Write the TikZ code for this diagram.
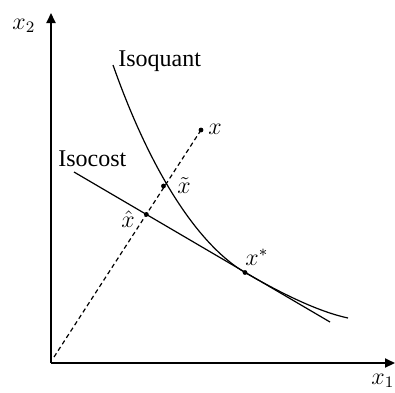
\documentclass[tikz,border=0pt]{standalone}
\usepackage{fontspec}
\setmainfont{Liberation Serif}
\usetikzlibrary{arrows.meta}

\begin{document}
\begin{tikzpicture}[x=0.5pt,y=-0.5pt,font=\fontsize{12}{14}\selectfont,
  axis/.style={line width=1pt,-{Triangle[length=5pt,width=4.5pt]}},
  curve/.style={line width=0.6pt},
  ray/.style={line width=0.6pt,dash pattern=on 2.2pt off 1.6pt},
  dot/.style={circle,fill,inner sep=0pt,minimum size=2.4pt},
  lbl/.style={inner sep=0pt,anchor=base west}]
\useasboundingbox (0,0) rectangle (395,392);
% axes
\coordinate (O) at (51,363);
\coordinate (ytop) at (51,13);
\coordinate (xend) at (395,363);
\draw[axis] (O) -- (ytop);
\draw[axis] (O) -- (xend);
\node[lbl] (x2lab) at (12,29) {$x_2$};
\node[lbl] (x1lab) at (371,384) {$x_1$};
% isocost line
\coordinate (c1) at (74,172);
\coordinate (c2) at (330,322);
\draw[curve] (c1) -- (c2);
\node[lbl] (costlab) at (58,166) {Isocost};
% isoquant, tangent to the isocost at x*
\coordinate (q1) at (113,65);
\coordinate (q3) at (348,318);
\node[dot] (xstar) at (245,272.5) {};
\draw[curve] (q1) .. controls (150,170) and (197,244) .. (xstar.center)
  .. controls (285,295.5) and (320,312) .. (q3);
\node[lbl] (quantlab) at (118,66) {Isoquant};
\node[lbl] (xstarlab) at (245,265) {$x^*$};
% ray from the origin to x
\node[dot] (x) at (201,130) {};
\coordinate (o1) at (54,357);
\draw[ray] (o1) -- (x.center);
\node[lbl] (xlab) at (208,134) {$x$};
\node[dot] (xhat) at (intersection of o1--x and c1--c2) {};
\node[lbl] (xhatlab) at (121,227) {$\hat{x}$};
\node[dot] (xtil) at (163.5,186) {};
\node[lbl] (xtillab) at (177,193) {$\tilde{x}$};
\end{tikzpicture}
\end{document}
